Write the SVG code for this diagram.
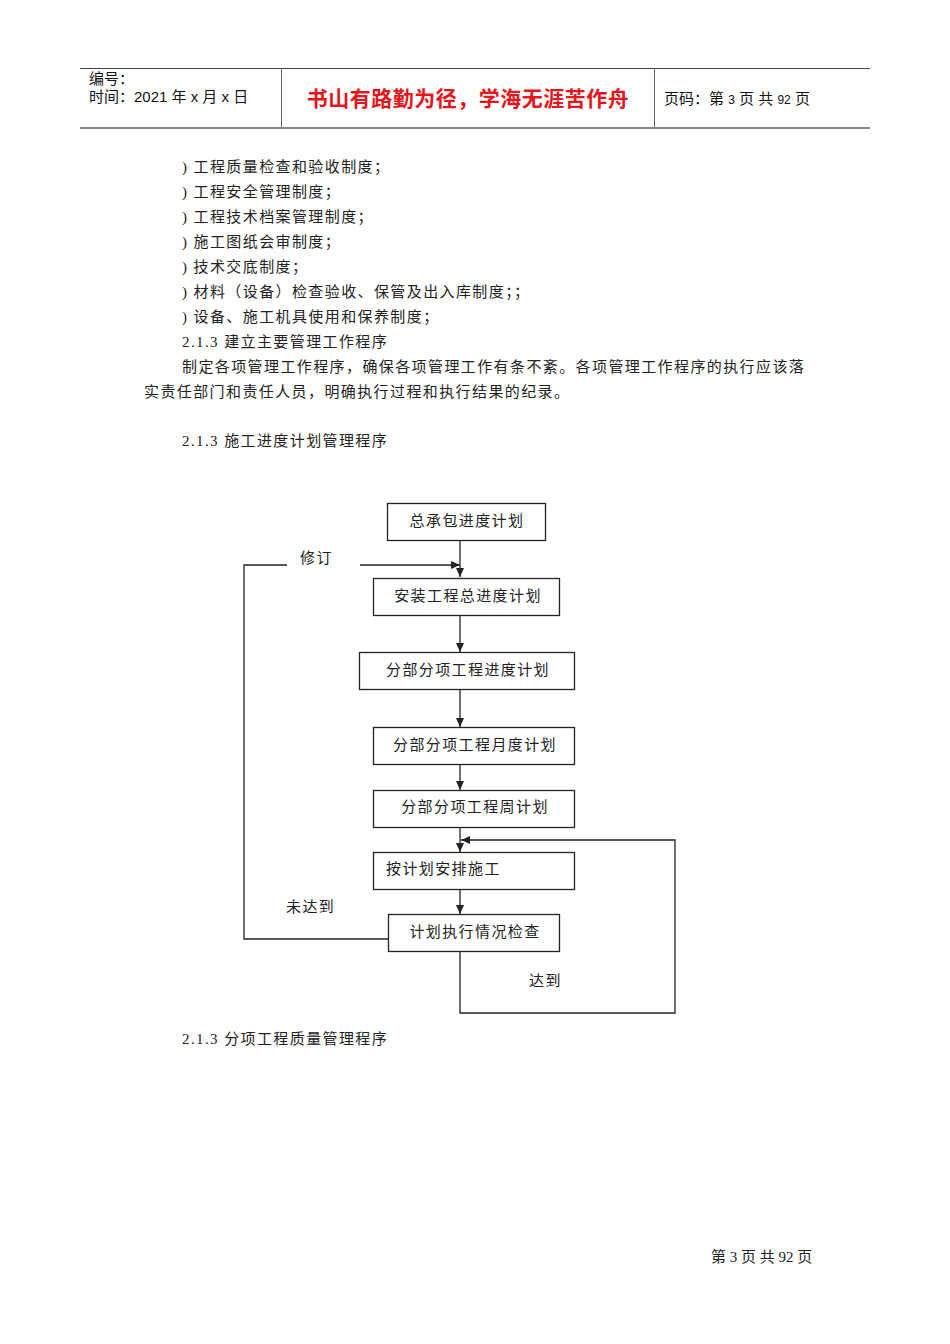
<svg xmlns="http://www.w3.org/2000/svg" width="950" height="1344" viewBox="0 0 950 1344">
<style>
text{font-family:"Liberation Serif","Noto Sans CJK SC",serif;font-size:15px;fill:#222;letter-spacing:1.4px}
.h{font-family:"Liberation Sans","Noto Sans CJK SC",sans-serif;font-size:15px;fill:#111;letter-spacing:0}
.box rect{fill:#fff;stroke:#222;stroke-width:1.3}
.box text{text-anchor:middle}
.c line,.c polyline{stroke:#222;stroke-width:1.3;fill:none}
</style>
<defs><marker id="a" markerWidth="10" markerHeight="10" refX="9" refY="5" orient="auto" markerUnits="userSpaceOnUse"><path d="M0,1 L9,5 L0,9 z" fill="#222"/></marker></defs>
<rect width="950" height="1344" fill="#fff"/>
<line x1="80" y1="68.500" x2="870" y2="68.500" stroke="#444" stroke-width="1"/>
<line x1="80" y1="128" x2="870" y2="128" stroke="#888" stroke-width="2"/>
<line x1="281.500" y1="68" x2="281.500" y2="127" stroke="#666"/>
<line x1="654.500" y1="68" x2="654.500" y2="127" stroke="#666"/>
<text class="h" x="89" y="84">编号：</text>
<text class="h" x="89" y="102">时间：2021 年 x 月 x 日</text>
<text x="468" y="106" text-anchor="middle" style="font-family:'Noto Sans CJK SC',sans-serif;font-size:21px;font-weight:bold;fill:#e8141b;letter-spacing:0.5px">书山有路勤为径，学海无涯苦作舟</text>
<text class="h" x="664" y="104">页码：第 <tspan font-size="12">3</tspan> 页 共 <tspan font-size="12">92</tspan> 页</text>
<text x="182" y="172">) 工程质量检查和验收制度；</text>
<text x="182" y="197">) 工程安全管理制度；</text>
<text x="182" y="222">) 工程技术档案管理制度；</text>
<text x="182" y="247">) 施工图纸会审制度；</text>
<text x="182" y="272">) 技术交底制度；</text>
<text x="182" y="297">) 材料（设备）检查验收、保管及出入库制度；；</text>
<text x="182" y="322">) 设备、施工机具使用和保养制度；</text>
<text x="182" y="347">2.1.3 建立主要管理工作程序</text>
<text x="182" y="372">制定各项管理工作程序，确保各项管理工作有条不紊。各项管理工作程序的执行应该落</text>
<text x="144" y="397">实责任部门和责任人员，明确执行过程和执行结果的纪录。</text>
<text x="182" y="446">2.1.3 施工进度计划管理程序</text>
<g class="c">
<line x1="460" y1="540" x2="460" y2="577" marker-end="url(#a)"/>
<line x1="460" y1="614" x2="460" y2="652" marker-end="url(#a)"/>
<line x1="460" y1="690" x2="460" y2="727" marker-end="url(#a)"/>
<line x1="460" y1="765" x2="460" y2="790" marker-end="url(#a)"/>
<line x1="460" y1="827" x2="460" y2="852" marker-end="url(#a)"/>
<line x1="460" y1="889" x2="460" y2="914" marker-end="url(#a)"/>
<polyline points="388,939 244,939 244,565 287,565"/>
<line x1="360" y1="565" x2="460" y2="565" marker-end="url(#a)"/>
<polyline points="460,951 460,1013 675,1013 675,840 461,840" marker-end="url(#a)"/>
</g>
<text x="300" y="563">修订</text>
<text x="286" y="912">未达到</text>
<text x="529" y="986">达到</text>
<g id="n1" class="box"><rect x="387.500" y="503.500" width="158" height="37"/><text x="467" y="526">总承包进度计划</text></g>
<g id="n2" class="box"><rect x="373.500" y="578.500" width="186" height="37"/><text x="468" y="601">安装工程总进度计划</text></g>
<g id="n3" class="box"><rect x="359.500" y="652.500" width="215" height="37"/><text x="468" y="675">分部分项工程进度计划</text></g>
<g id="n4" class="box"><rect x="373.500" y="727.500" width="201" height="37"/><text x="475" y="750">分部分项工程月度计划</text></g>
<g id="n5" class="box"><rect x="373.500" y="790.500" width="201" height="37"/><text x="475" y="812">分部分项工程周计划</text></g>
<g id="n6" class="box"><rect x="373.500" y="852.500" width="201" height="37"/><text x="386" y="874" style="text-anchor:start">按计划安排施工</text></g>
<g id="n7" class="box"><rect x="388.500" y="914.500" width="171" height="37"/><text x="475" y="937">计划执行情况检查</text></g>
<text x="182" y="1044">2.1.3 分项工程质量管理程序</text>
<text x="711" y="1262" font-size="13" style="letter-spacing:0">第 3 页 共 92 页</text>
</svg>
